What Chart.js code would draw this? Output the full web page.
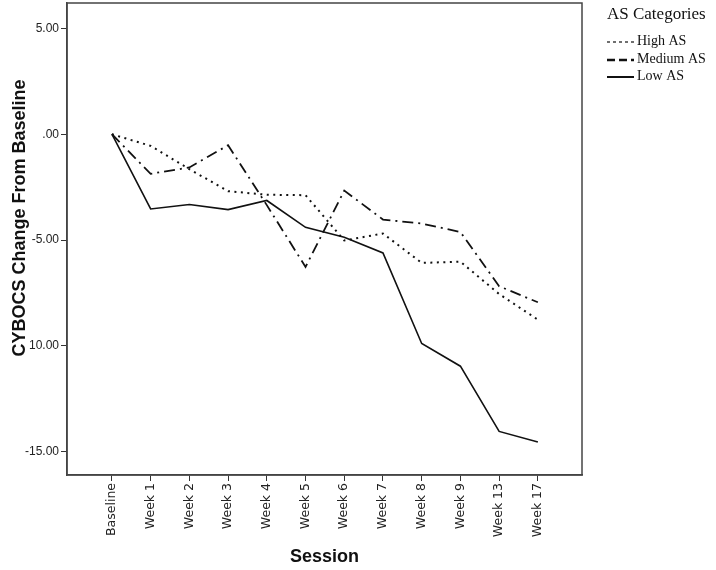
<!DOCTYPE html>
<html lang="en">
<head>
    <meta charset="UTF-8">
    <title>CYBOCS Change From Baseline by AS Category</title>
    <style>
        body { margin: 0; background: #fff; }
        #wrap { width: 716px; height: 570px; }
    </style>
    <script src="https://cdn.jsdelivr.net/npm/chart.js"></script>
</head>
<body>
    <div id="wrap"><canvas id="cybocsChart" width="716" height="570"></canvas></div>

    <script>
        // Sessions on the x axis
        const sessions = ['Baseline', 'Week 1', 'Week 2', 'Week 3', 'Week 4', 'Week 5',
                          'Week 6', 'Week 7', 'Week 8', 'Week 9', 'Week 13', 'Week 17'];

        // Mean CYBOCS change from baseline
        const highAS   = [0, -0.55, -1.65, -2.69, -2.86, -2.88, -5.02, -4.69, -6.08, -6.02, -7.55, -8.76];
        const mediumAS = [0, -1.87, -1.57, -0.52, -3.35, -6.27, -2.66, -4.03, -4.22, -4.62, -7.18, -7.94];
        const lowAS    = [0, -3.53, -3.32, -3.56, -3.13, -4.40, -4.87, -5.61, -9.89, -10.96, -14.04, -14.54];

        // Y tick values and the labels printed next to them
        const yTickValues = [5, 0, -5, -10, -15];
        const yTickLabels = ['5.00', '.00', '-5.00', '10.00', '-15.00'];

        const seriesNames = ['High AS', 'Medium AS', 'Low AS'];
        const yTitle = 'CYBOCS Change From Baseline';

        const toXY = arr => arr.map((v, i) => ({ x: i, y: v }));

        // Box around the plot, y title and the serif legend at the top right
        const framePlugin = {
            id: 'frame',
            afterDraw(chart) {
                const { ctx, chartArea: a } = chart;
                ctx.save();
                ctx.strokeStyle = '#444';
                ctx.lineWidth = 1.5;
                ctx.strokeRect(a.left, a.top, a.right - a.left, a.bottom - a.top);

                // y axis title sits a bit above the plot's middle in the original
                ctx.save();
                ctx.translate(20, 218);
                ctx.rotate(-Math.PI / 2);
                ctx.fillStyle = '#111';
                ctx.textAlign = 'center';
                ctx.textBaseline = 'middle';
                ctx.font = 'bold 18px "Liberation Sans", Arial, sans-serif';
                ctx.fillText(yTitle, 0, 0);
                ctx.restore();

                ctx.fillStyle = '#111';
                ctx.textBaseline = 'middle';
                ctx.textAlign = 'left';
                ctx.font = '17px "Liberation Serif", "Times New Roman", serif';
                ctx.fillText('AS Categories', 607, 15);

                const samples = [
                    { y: 41, dash: [3, 3], width: 1.2 },
                    { y: 59, dash: [8, 4], width: 2.6 },
                    { y: 76, dash: [], width: 2 }
                ];
                ctx.font = '14px "Liberation Serif", "Times New Roman", serif';
                samples.forEach((s, i) => {
                    ctx.beginPath();
                    ctx.setLineDash(s.dash);
                    ctx.lineWidth = s.width;
                    ctx.strokeStyle = '#111';
                    ctx.moveTo(607, s.y + 1);
                    ctx.lineTo(634, s.y + 1);
                    ctx.stroke();
                    ctx.fillText(seriesNames[i], 637, s.y);
                });
                ctx.restore();
            }
        };

        const ctx = document.getElementById('cybocsChart').getContext('2d');
        const cybocsChart = new Chart(ctx, {
            type: 'line',
            data: {
                datasets: [
                    {
                        label: seriesNames[0],
                        data: toXY(highAS),
                        borderColor: '#111',
                        borderWidth: 2,
                        borderDash: [2, 4.5],
                        pointRadius: 0,
                        tension: 0
                    },
                    {
                        label: seriesNames[1],
                        data: toXY(mediumAS),
                        borderColor: '#111',
                        borderWidth: 1.8,
                        borderDash: [11, 5, 2, 5],
                        pointRadius: 0,
                        tension: 0
                    },
                    {
                        label: seriesNames[2],
                        data: toXY(lowAS),
                        borderColor: '#111',
                        borderWidth: 1.6,
                        pointRadius: 0,
                        tension: 0
                    }
                ]
            },
            options: {
                responsive: false,
                animation: false,
                layout: { padding: { top: 3, right: 134, bottom: 0, left: 0 } },
                plugins: {
                    legend: { display: false },
                    tooltip: { enabled: false }
                },
                scales: {
                    x: {
                        type: 'linear',
                        min: -1.16,
                        max: 12.14,
                        afterBuildTicks(scale) {
                            scale.ticks = sessions.map((s, i) => ({ value: i }));
                        },
                        afterFit(scale) { scale.height = 95; },
                        grid: { drawOnChartArea: false, tickLength: 6, color: '#333' },
                        border: { color: '#444', width: 1.5 },
                        ticks: {
                            minRotation: 90,
                            maxRotation: 90,
                            autoSkip: false,
                            padding: 2,
                            color: '#222',
                            font: { family: '"DejaVu Sans", Arial, sans-serif', size: 12.5 },
                            callback: value => sessions[value]
                        },
                        title: {
                            display: true,
                            text: 'Session',
                            color: '#111',
                            font: { family: '"Liberation Sans", Arial, sans-serif', size: 18, weight: 'bold' },
                            padding: { top: 0, bottom: 2 }
                        }
                    },
                    y: {
                        min: -16.1,
                        max: 6.2,
                        afterBuildTicks(scale) {
                            scale.ticks = yTickValues.map(v => ({ value: v }));
                        },
                        afterFit(scale) {
                            scale.width = 67;
                            scale.paddingTop = 0;
                            scale.paddingBottom = 0;
                        },
                        grid: { drawOnChartArea: false, tickLength: 6, color: '#333' },
                        border: { color: '#444', width: 1.5 },
                        ticks: {
                            padding: 2,
                            color: '#222',
                            font: { family: '"Liberation Sans", Arial, sans-serif', size: 12 },
                            callback: value => yTickLabels[yTickValues.indexOf(value)]
                        }
                    }
                }
            },
            plugins: [framePlugin]
        });
    </script>
</body>
</html>
